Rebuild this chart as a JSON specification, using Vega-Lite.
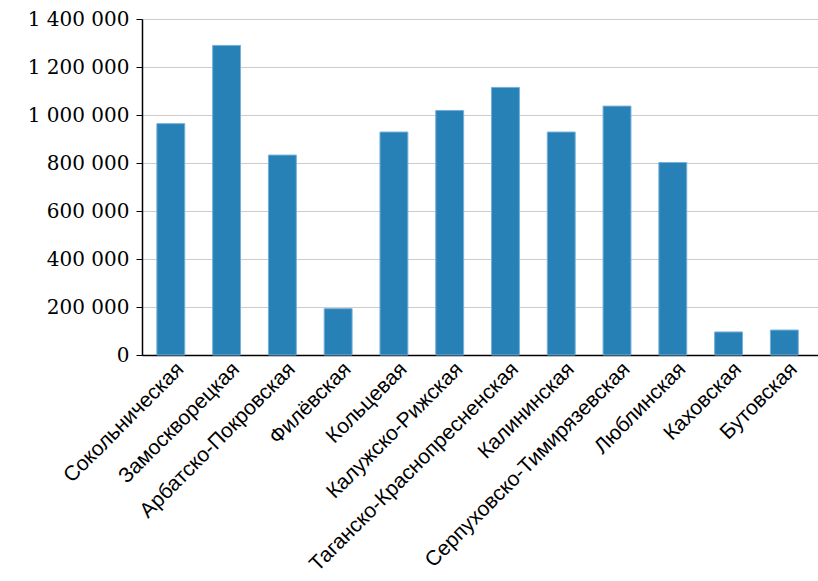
{
  "$schema": "https://vega.github.io/schema/vega-lite/v6.json",
  "width": 676,
  "height": 336,
  "autosize": {"type": "none"},
  "padding": {"left": 142, "top": 19, "right": 0, "bottom": 226},
  "background": "white",
  "data": {"values": [
    {"line": "Сокольническая", "value": 964000},
    {"line": "Замоскворецкая", "value": 1290000},
    {"line": "Арбатско-Покровская", "value": 833000},
    {"line": "Филёвская", "value": 193000},
    {"line": "Кольцевая", "value": 929000},
    {"line": "Калужско-Рижская", "value": 1019000},
    {"line": "Таганско-Краснопресненская", "value": 1115000},
    {"line": "Калининская", "value": 929000},
    {"line": "Серпуховско-Тимирязевская", "value": 1037000},
    {"line": "Люблинская", "value": 802000},
    {"line": "Каховская", "value": 96000},
    {"line": "Бутовская", "value": 104000}
  ]},
  "mark": {"type": "bar", "color": "#2780b6", "stroke": "#74b0d9", "strokeWidth": 1},
  "encoding": {
    "x": {
      "field": "line", "type": "nominal", "sort": null, "title": null,
      "scale": {"paddingInner": 0.5, "paddingOuter": 0.31, "align": 0.43},
      "axis": {
        "labelAngle": -45, "labelAlign": "right", "labelBaseline": "top",
        "labelFont": "Liberation Sans", "labelFontSize": 21, "labelColor": "#000",
        "ticks": false, "labelPadding": 3, "labelOffset": 2, "domainColor": "#000", "domainWidth": 1.5,
        "labelOverlap": false, "labelLimit": 500
      }
    },
    "y": {
      "field": "value", "type": "quantitative", "title": null,
      "scale": {"domain": [0, 1400000], "nice": false},
      "axis": {
        "values": [0, 200000, 400000, 600000, 800000, 1000000, 1200000, 1400000],
        "labelExpr": "replace(format(datum.value, ',d'), /,/g, ' ')",
        "labelFont": "DejaVu Serif", "labelFontSize": 20, "labelColor": "#000",
        "tickColor": "#000", "tickSize": 6, "labelPadding": 7,
        "domainColor": "#000", "domainWidth": 1.5,
        "grid": true, "gridColor": "#cccccc", "gridWidth": 1
      }
    }
  },
  "config": {"view": {"stroke": null}}
}
